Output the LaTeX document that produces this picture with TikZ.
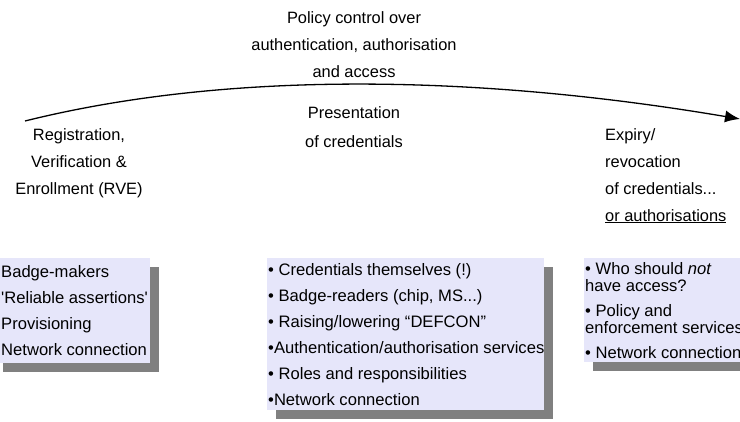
\documentclass[tikz,border=0pt]{standalone}
\usepackage{fontspec}
\setmainfont{Liberation Sans}
\usetikzlibrary{arrows.meta,shadows}
\definecolor{lavender}{RGB}{230,230,250}
\definecolor{shade}{RGB}{128,128,128}

\begin{document}
\begin{tikzpicture}[x=1pt,y=-1pt,
		lbl/.style={inner sep=0pt,font=\fontsize{16.4}{27}\selectfont},
		panel/.style={fill=lavender,inner sep=0pt,anchor=north west,
			drop shadow={shadow xshift=9pt,shadow yshift=-9pt,fill=shade,opacity=1}},
		items/.style={inner sep=0pt,align=left,anchor=west,font=\fontsize{16.6}{26}\selectfont}]
		\useasboundingbox[fill=white] (0,0) rectangle (740,422);
		% the time line
		\coordinate (arcstart) at (25,121);
		\coordinate (arcend) at (740,119);
		\draw[line width=1.3pt,-{Latex[length=15pt,width=12pt]}] (arcstart) .. controls (230,70) and (480,75) .. (arcend);
		\node[lbl,align=center,anchor=north] (policy) at (354,11) {Policy control over\\authentication, authorisation\\and access};
		\node[lbl,align=center,anchor=north] (present) at (354,106) {Presentation\\[2pt]of credentials};
		\node[lbl,align=center,anchor=north] (rve) at (79,128) {Registration,\\Verification \&\\Enrollment (RVE)};
		\node[lbl,align=left,anchor=north west] (expiry) at (605,128) {Expiry/\\revocation\\of credentials...\\\underline{or authorisations}};
		% the three panels
		\node[panel,minimum width=156pt,minimum height=105pt] (rvebox) at (-6,258) {};
		\node[items] (rvelist) at ([xshift=7pt]rvebox.west) {Badge-makers\\\textquotesingle Reliable assertions\textquotesingle\\Provisioning\\Network connection};
		\node[panel,minimum width=277pt,minimum height=152pt] (presbox) at (267,258) {};
		\node[items] (preslist) at ([xshift=1pt]presbox.west) {• Credentials themselves (!)\\• Badge-readers (chip, MS...)\\• Raising/lowering “DEFCON”\\•Authentication/authorisation services\\• Roles and responsibilities\\•Network connection};
		\node[panel,minimum width=180pt,minimum height=104pt] (expbox) at (584,258) {};
		\node[items,font=\fontsize{16.6}{17}\selectfont] (explist) at ([xshift=1pt]expbox.west) {• Who should \textit{not}\\have access?\\[8pt]• Policy and\\enforcement services\\[8pt]• Network connection};
	\end{tikzpicture}
\end{document}
